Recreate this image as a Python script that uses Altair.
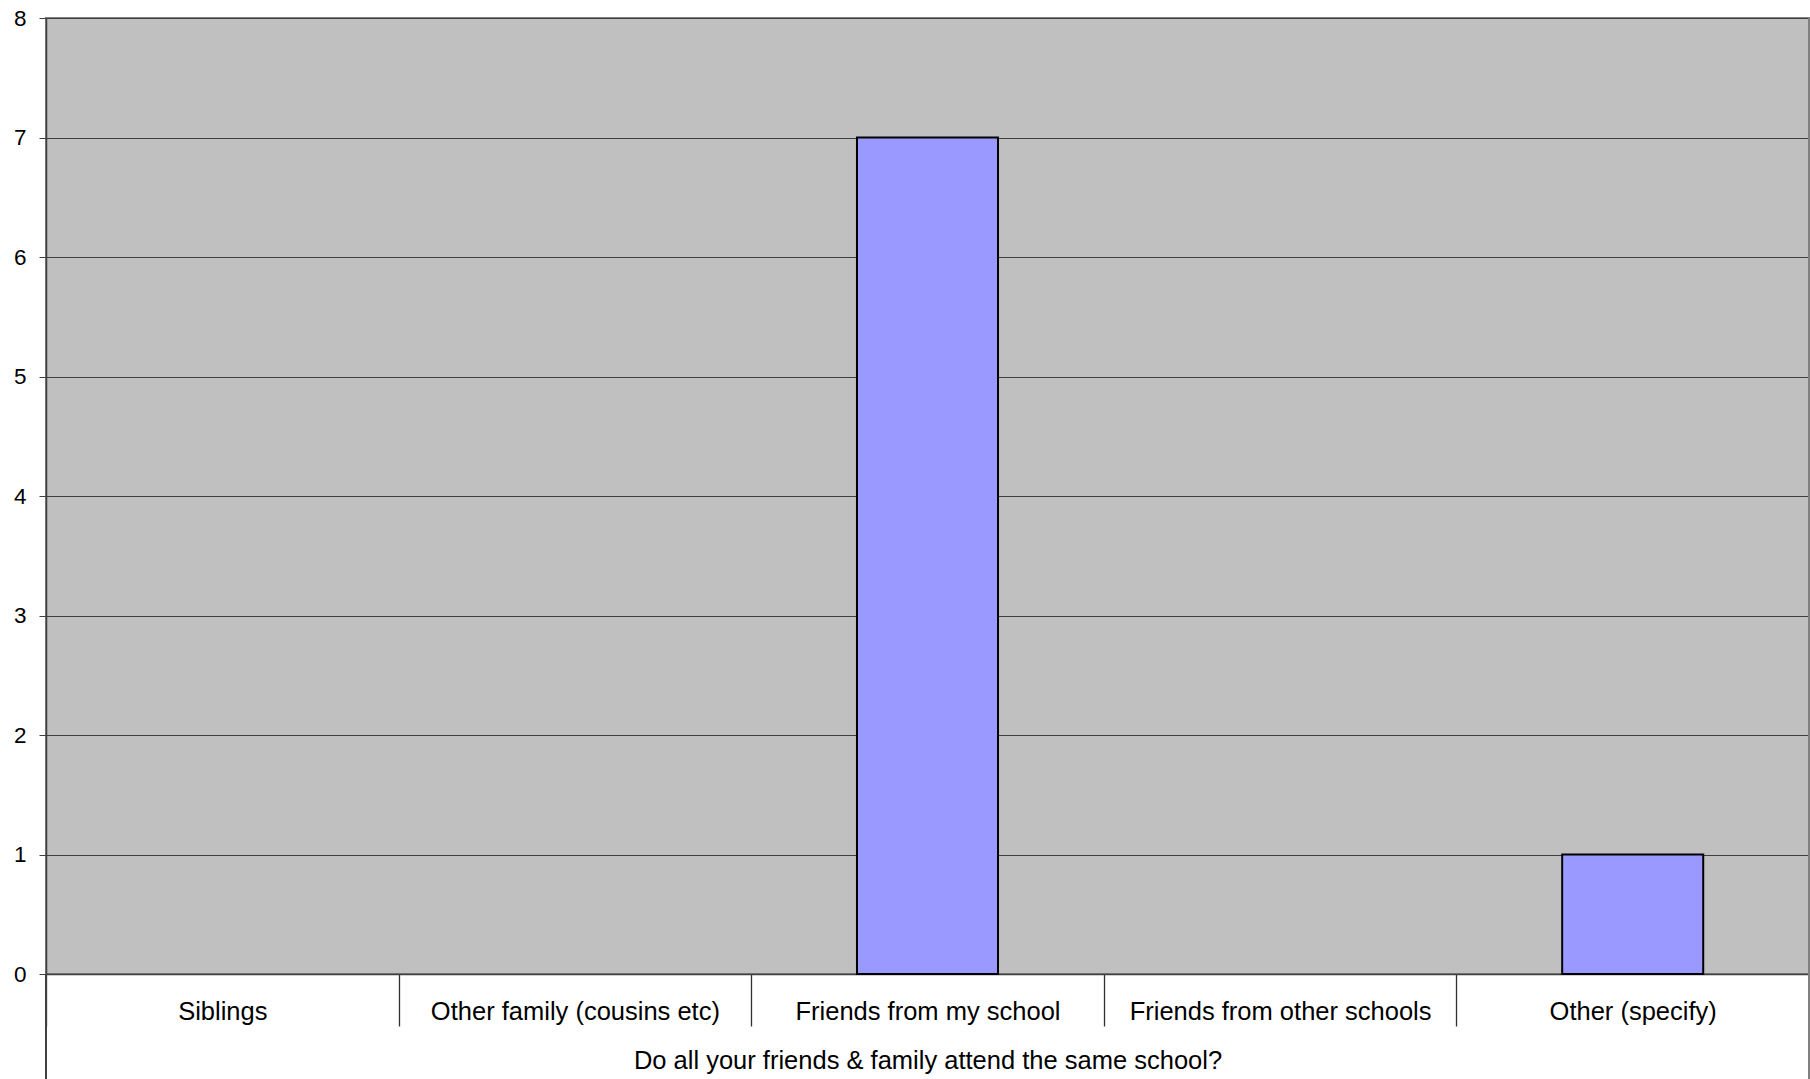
import altair as alt
import pandas as pd

categories = ["Siblings", "Other family (cousins etc)", "Friends from my school",
              "Friends from other schools", "Other (specify)"]
counts = [0, 0, 7, 0, 1]
x_title = "Do all your friends & family attend the same school?"
y_ticks = [0, 1, 2, 3, 4, 5, 6, 7, 8]

df = pd.DataFrame({"category": categories, "count": counts})

W, H = 1763, 956
FONT = "Liberation Sans"

x_scale = alt.Scale(domain=categories, paddingInner=0.6, paddingOuter=0.3)

bars = alt.Chart(df).transform_filter("datum.count > 0").mark_bar(
    color="#9999FF", stroke="#000000", strokeWidth=2
).encode(
    x=alt.X("category:N", scale=x_scale, sort=categories,
            axis=alt.Axis(title=x_title, labelAngle=0, grid=False,
                          tickSize=52, tickOffset=-W / 10, tickColor="#303030",
                          tickWidth=1.3, domainColor="#404040", domainWidth=1.5,
                          labelOffset=W / 10, labelLimit=0,
                          labelBaseline="alphabetic", labelPadding=-7,
                          labelFontSize=25.5, labelFont=FONT, labelColor="#000000",
                          titleFontSize=25.5, titleFont=FONT, titleFontWeight="normal",
                          titleColor="#000000", titleY=94, titleBaseline="alphabetic")),
    y=alt.Y("count:Q", scale=alt.Scale(domain=[0, 8], nice=False),
            axis=alt.Axis(title=None, values=y_ticks, grid=True, gridColor="#404040",
                          gridWidth=1, tickSize=7, tickColor="#404040",
                          domainColor="#404040", domainWidth=1.5,
                          labelFontSize=22.5, labelFont=FONT, labelColor="#000000",
                          labelPadding=13)),
)

left_ext = alt.Chart(df).mark_rule(color="#404040", strokeWidth=1.5).encode(
    x=alt.value(0), y=alt.value(H), y2=alt.value(1079 - 18)
)
right_ext = alt.Chart(df).mark_rule(color="#808080", strokeWidth=1.5).encode(
    x=alt.value(W), y=alt.value(0), y2=alt.value(1079 - 18)
)

chart = alt.layer(bars, left_ext, right_ext).properties(
    width=W, height=H,
    autosize=alt.AutoSizeParams(type="none"),
    padding={"left": 46, "top": 18, "right": 1, "bottom": 105},
    background="#FFFFFF",
).configure_view(
    fill="#C0C0C0", stroke="#808080", strokeWidth=2
)

chart.save("out.html", embed_options={"renderer": "svg", "actions": False})
